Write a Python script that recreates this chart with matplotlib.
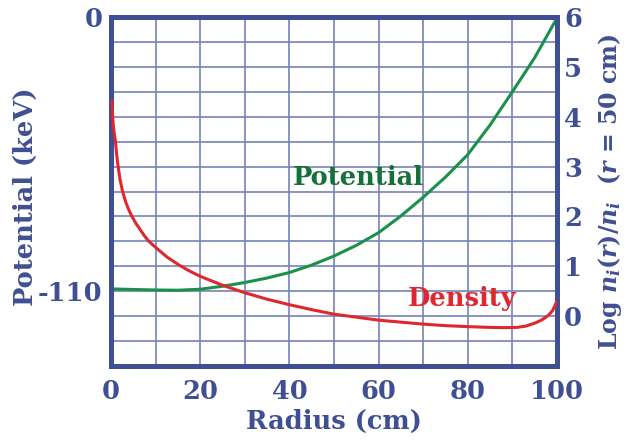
import matplotlib
matplotlib.use("Agg")
import matplotlib.pyplot as plt
import numpy as np

# ---- data ----
r_pot = [0.7, 5, 10, 15, 20, 25, 30, 35, 40, 45, 50, 55, 60, 65, 70, 75, 80, 85, 90, 95, 99.5]
potential = [-109.1, -109.3, -109.5, -109.6, -109.2, -108.0, -106.5, -104.7, -102.5, -99.5,
             -95.9, -91.6, -86.5, -79.8, -72.3, -64.2, -55.2, -43.3, -30.0, -16.3, -2.0]

r_den = [0.25, 0.35, 0.5, 0.7, 1.0, 1.3, 1.6, 2.0, 2.6, 3.3, 4.0, 4.7, 5.6, 6.6, 7.5, 8.5, 10,
         12.5, 15, 17.5, 20, 25, 30, 35, 40, 45, 50, 55, 60, 65, 70, 75, 80, 85, 88, 91, 93, 95,
         96.5, 98, 99, 100]
log_density = [4.30, 4.05, 3.85, 3.68, 3.50, 3.22, 3.00, 2.75, 2.50, 2.29, 2.13, 2.00, 1.86, 1.73,
               1.61, 1.50, 1.38, 1.19, 1.04, 0.91, 0.80, 0.62, 0.47, 0.34, 0.23, 0.13, 0.04, -0.02,
               -0.08, -0.12, -0.16, -0.19, -0.21, -0.225, -0.23, -0.225, -0.20, -0.14, -0.08,
               0.01, 0.11, 0.30]

x_ticks = [0, 20, 40, 60, 80, 100]
left_ticks = [0, -110]
right_ticks = [0, 1, 2, 3, 4, 5, 6]

# ---- style ----
NAVY = "#3f4f93"
GRID = "#7583bb"
GREEN = "#1a9148"
GREEN_TXT = "#17703a"
RED = "#e0262e"
FONT = "DejaVu Serif"
FS = 18.5

plt.rcParams['mathtext.fontset'] = 'custom'
plt.rcParams['mathtext.rm'] = 'DejaVu Serif:bold'
plt.rcParams['mathtext.it'] = 'DejaVu Serif:italic:bold'
plt.rcParams['mathtext.bf'] = 'DejaVu Serif:bold'

fig = plt.figure(figsize=(6.42, 4.41), dpi=100)
ax = fig.add_axes([0.1729, 0.170, 0.8676 - 0.1729, 0.9615 - 0.170])
ax2 = ax.twinx()

ax.set_xlim(0, 100)
ax.set_ylim(-140, 0)
ax2.set_ylim(-1, 6)

# grid
for xv in range(10, 100, 10):
    ax.axvline(xv, color=GRID, lw=1.2, zorder=1)
for yv in range(-130, 0, 10):
    ax.axhline(yv, color=GRID, lw=1.2, zorder=1)

# curves
ax.plot(r_pot, potential, color=GREEN, lw=2.2, zorder=3)
ax2.plot(r_den, log_density, color=RED, lw=2.2, zorder=3)

# ticks
ax.set_xticks(x_ticks)
ax.set_xticklabels([str(v) for v in x_ticks])
ax.set_yticks(left_ticks)
ax.set_yticklabels(["0", "-110"])
ax2.set_yticks(right_ticks)
ax2.set_yticklabels([str(v) for v in right_ticks])

for a in (ax, ax2):
    a.tick_params(length=0, labelsize=FS, labelcolor=NAVY)
    for lab in a.get_xticklabels() + a.get_yticklabels():
        lab.set_fontfamily(FONT)
        lab.set_fontweight("bold")
    for s in a.spines.values():
        s.set_color(NAVY)
        s.set_linewidth(3.5)
ax.tick_params(axis='x', pad=9)
ax.tick_params(axis='y', pad=6)
ax2.tick_params(axis='y', pad=5)

ax.set_xlabel("Radius (cm)", fontsize=FS, fontfamily=FONT, fontweight="bold", color=NAVY, labelpad=4)
ax.set_ylabel("Potential (keV)", fontsize=FS, fontfamily=FONT, fontweight="bold", color=NAVY)
ax.yaxis.set_label_coords(-0.164, 0.484)
ax2.set_ylabel(r"Log $n_i(r)/n_i$  ($r$ = 50 cm)", fontsize=17, fontfamily=FONT,
               fontweight="bold", color=NAVY)
ax2.yaxis.set_label_coords(1.088, 0.50)

# annotations
ax.text(55.4, -67.2, "Potential", color=GREEN_TXT, fontsize=FS, fontfamily=FONT,
        fontweight="bold", ha="center", va="baseline", zorder=4)
ax.text(78.8, -116.0, "Density", color=RED, fontsize=FS, fontfamily=FONT,
        fontweight="bold", ha="center", va="baseline", zorder=4)

fig.savefig("out.png", dpi=100)
